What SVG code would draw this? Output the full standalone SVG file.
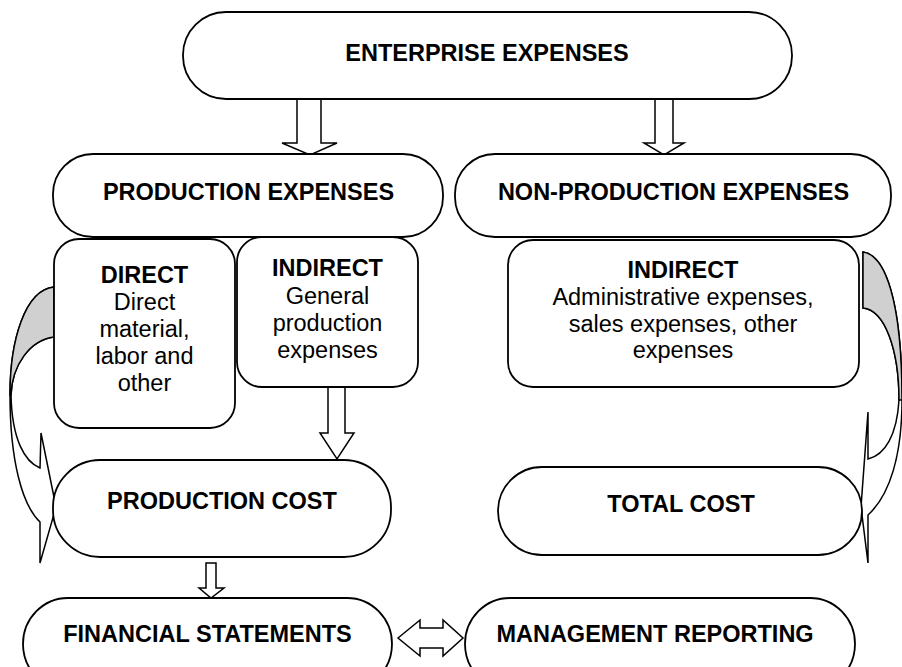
<svg xmlns="http://www.w3.org/2000/svg" width="902" height="667" viewBox="0 0 902 667">
<style>
.box{fill:#fff;stroke:#000;stroke-width:1.8}
.arr{fill:#fff;stroke:#000;stroke-width:1.5;stroke-linejoin:miter}
.gray{fill:#d0d0d0;stroke:#000;stroke-width:1.5}
text{font-family:"Liberation Sans",Arial,sans-serif;font-size:23.5px;text-anchor:middle;fill:#000}
.b{font-weight:bold}
</style>
<rect width="902" height="667" fill="#fff"/>
<g id="connectors">
<polygon class="arr" points="297,99 321,99 321,143 337,143 310,155 282,143 297,143"/>
<polygon class="arr" points="655,99 673,99 673,143 684,143 664,155 644,143 655,143"/>
<polygon class="arr" points="328,387 345,387 345,433 354,433 337,459 320,433 328,433"/>
<polygon class="arr" points="206,563 216,563 216,588 224,588 211,598 199,588 206,588"/>
<polygon class="arr" points="398,638 420,620 420,628 443,628 443,620 463,638 443,656 443,648 420,648 420,656"/>
<g id="curved-left">
<path class="arr" d="M54,287 C25,290 10,340 10,395 C10,460 22,505 40,522 L40,563 L56,507 L41,433 L40,468 C25,462 12,440 11,395 C12,365 30,340 54,337 Z"/>
<path class="gray" d="M54,287 C25,290 10,340 10,395 L11,395 C12,365 30,340 54,337 Z"/>
</g>
<g id="curved-right">
<path class="arr" d="M863,252 C885,255 902,300 902,400 C902,455 890,495 868,515 L868,563 L861,507 L868,412 L868,459 C885,455 897,435 899,400 C899,350 885,310 863,308 Z"/>
<path class="gray" d="M863,252 C885,255 902,300 902,400 L899,400 C899,350 885,310 863,308 Z"/>
</g>
</g>
<g id="enterprise">
<rect class="box" x="183" y="12" width="609" height="87" rx="43" ry="43"/>
<text class="b" x="487" y="61">ENTERPRISE EXPENSES</text>
</g>
<g id="production-expenses">
<rect class="box" x="53" y="154" width="390" height="83" rx="40" ry="40"/>
<text class="b" x="248.5" y="200">PRODUCTION EXPENSES</text>
</g>
<g id="non-production-expenses">
<rect class="box" x="455" y="154" width="436" height="83" rx="40" ry="40"/>
<text class="b" x="673.5" y="200">NON-PRODUCTION EXPENSES</text>
</g>
<g id="direct">
<rect class="box" x="54" y="239" width="181" height="189" rx="25" ry="25"/>
<text class="b" x="144.5" y="283">DIRECT</text>
<text x="144.5" y="310">Direct</text>
<text x="144.5" y="337">material,</text>
<text x="144.5" y="364">labor and</text>
<text x="144.5" y="391">other</text>
</g>
<g id="indirect-production">
<rect class="box" x="237" y="237" width="181" height="150" rx="25" ry="25"/>
<text class="b" x="327.5" y="276">INDIRECT</text>
<text x="327.5" y="304">General</text>
<text x="327.5" y="331">production</text>
<text x="327.5" y="358">expenses</text>
</g>
<g id="indirect-non-production">
<rect class="box" x="508" y="240" width="351" height="147" rx="25" ry="25"/>
<text class="b" x="683" y="278">INDIRECT</text>
<text x="683" y="305">Administrative expenses,</text>
<text x="683" y="332">sales expenses, other</text>
<text x="683" y="358">expenses</text>
</g>
<g id="production-cost">
<rect class="box" x="53" y="460" width="338" height="97" rx="47" ry="47"/>
<text class="b" x="222" y="509">PRODUCTION COST</text>
</g>
<g id="total-cost">
<rect class="box" x="498" y="467" width="364" height="88" rx="44" ry="44"/>
<text class="b" x="681" y="512">TOTAL COST</text>
</g>
<g id="financial-statements">
<rect class="box" x="23" y="598" width="369" height="92" rx="45" ry="46"/>
<text class="b" x="207.5" y="642">FINANCIAL STATEMENTS</text>
</g>
<g id="management-reporting">
<rect class="box" x="465" y="598" width="390" height="92" rx="45" ry="46"/>
<text class="b" x="655" y="642">MANAGEMENT REPORTING</text>
</g>
</svg>
